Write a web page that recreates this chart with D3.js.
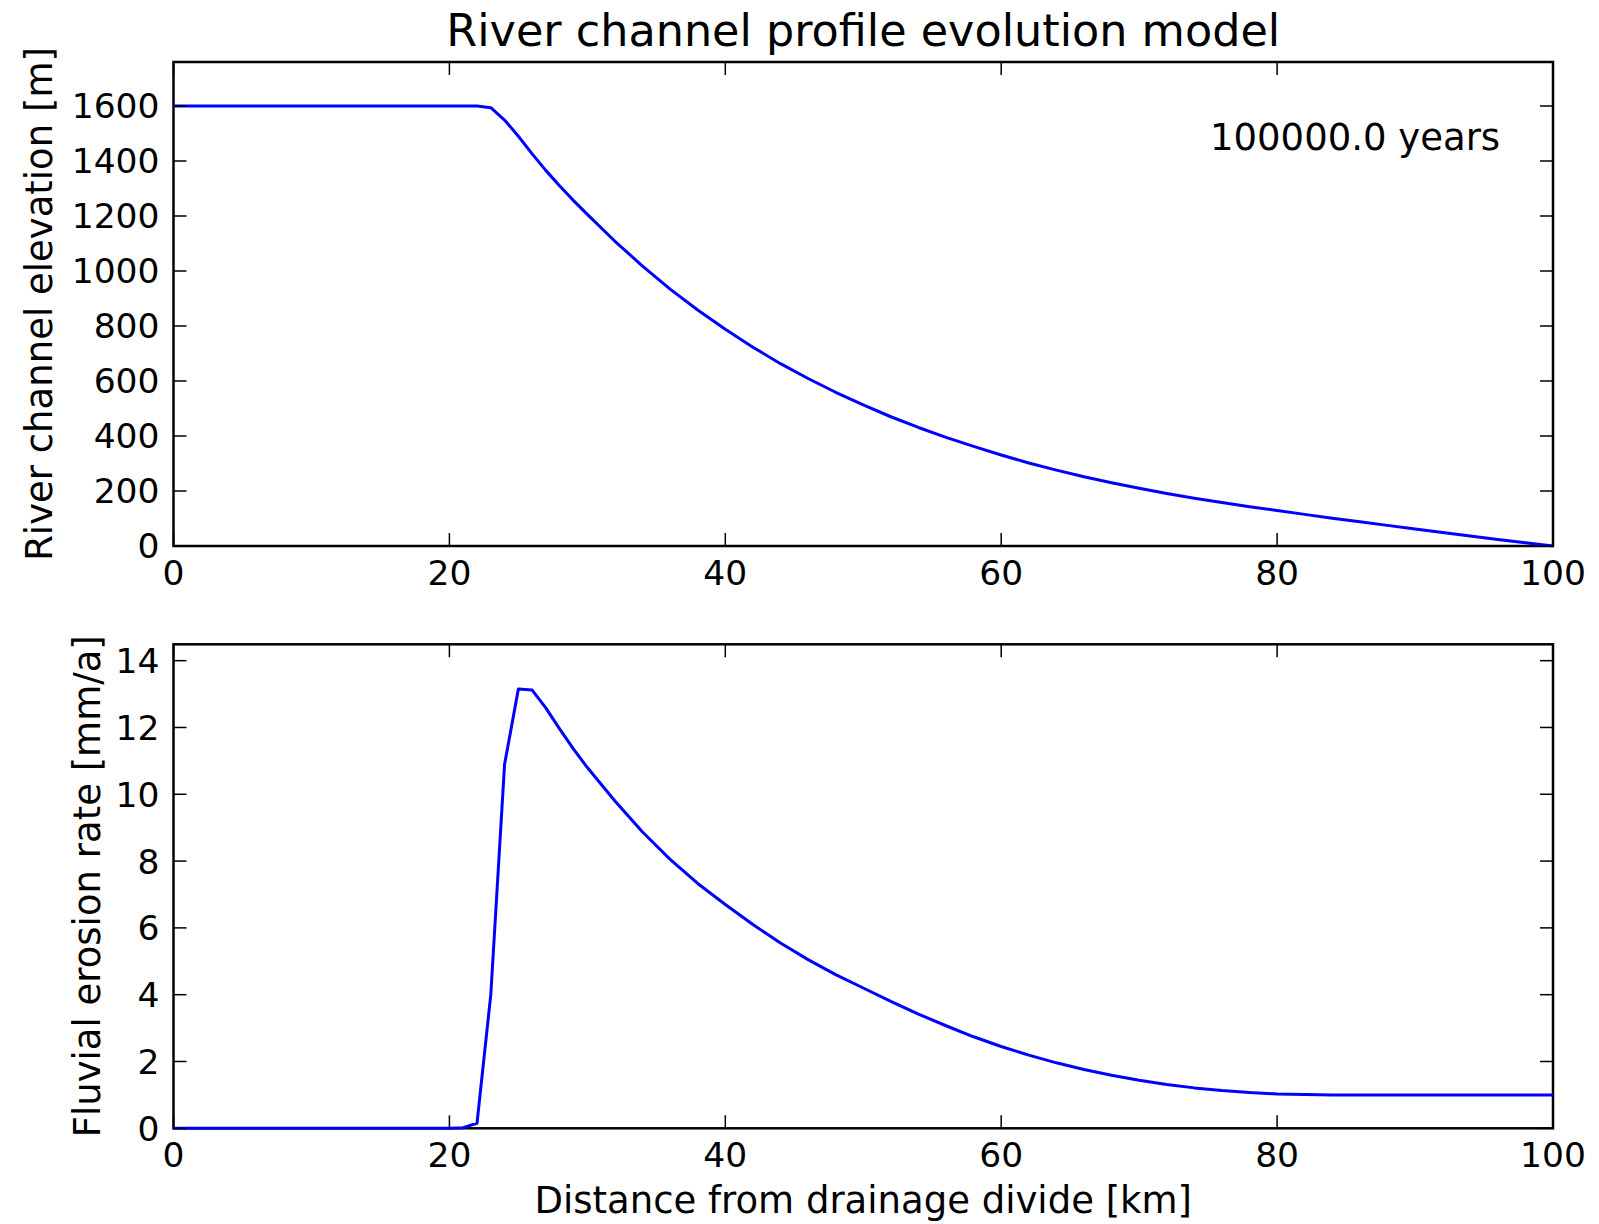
<!DOCTYPE html>
<html>
<head>
<meta charset="utf-8">
<script src="https://cdn.jsdelivr.net/npm/d3@7"></script>
<style>
  html, body { margin: 0; padding: 0; background: #fff; }
  svg { display: block; }
  text { font-family: "DejaVu Sans", sans-serif; fill: #000; }
</style>
</head>
<body>
<svg id="chart" width="1599" height="1224"></svg>
<script>
// ---- data ----
const distanceKm = [0,2,4,6,8,10,12,14,16,18,20,21,22,23,24,25,26,27,28,29,30,32,34,36,38,40,42,44,46,48,50,52,54,56,58,60,62,64,66,68,70,72,74,76,78,80,82,84,86,88,90,92,94,96,98,100];
const elevationM = [1600,1600,1600,1600,1600,1600,1600,1600,1600,1600,1600,1600,1600,1594,1549,1490,1426,1365,1309,1256,1206,1108,1018,934,858,788,723,663,609,559,513,470,431,395,362,331,302,276,252,230,210,191,174,158,143,129,115,101,88,75,62,49,36,24,12,0];
const erosionMmA = [0,0,0,0,0,0,0,0,0,0,0,0.02,0.15,4.0,10.9,13.15,13.12,12.58,11.95,11.35,10.8,9.8,8.87,8.05,7.33,6.7,6.1,5.55,5.05,4.6,4.2,3.8,3.42,3.07,2.74,2.45,2.19,1.96,1.76,1.59,1.44,1.31,1.21,1.13,1.07,1.03,1.01,1.0,1.0,1.0,1.0,1.0,1.0,1.0,1.0,1.0];
const xTicks = [0,20,40,60,80,100];
const elevTicks = [0,200,400,600,800,1000,1200,1400,1600];
const erosionTicks = [0,2,4,6,8,10,12,14];
const titleText = "River channel profile evolution model";
const timeLabel = "100000.0 years";

// ---- layout ----
const svg = d3.select("#chart");
const L = 173.5, R = 1553;
const top1 = 62, bot1 = 546;
const top2 = 644.3, bot2 = 1128.3;
const tickLen = 13;
const fs = 34.5;
const labelFs = 37;

const x = d3.scaleLinear().domain([0,100]).range([L,R]);
const yElev = d3.scaleLinear().domain([0,1760]).range([bot1, top1]);
const yEro = d3.scaleLinear().domain([0,14.49]).range([bot2, top2]);

function panel(yScale, yTicks, yData, top, bot, ylabel, ylabelX) {
  const g = svg.append("g");
  // frame
  g.append("rect").attr("x",L).attr("y",top).attr("width",R-L).attr("height",bot-top)
    .attr("fill","none").attr("stroke","#000").attr("stroke-width",2.5);
  // line
  const line = d3.line().x((d,i)=>x(distanceKm[i])).y(d=>yScale(d));
  g.append("path").datum(yData)
    .attr("d", line).attr("fill","none").attr("stroke","#0000ff")
    .attr("stroke-width",3).attr("stroke-linejoin","round");
  // ticks inward, all four sides
  const tg = g.append("g").attr("stroke","#000").attr("stroke-width",1.5);
  xTicks.forEach(t => {
    tg.append("line").attr("x1",x(t)).attr("x2",x(t)).attr("y1",bot).attr("y2",bot-tickLen);
    tg.append("line").attr("x1",x(t)).attr("x2",x(t)).attr("y1",top).attr("y2",top+tickLen);
  });
  yTicks.forEach(t => {
    tg.append("line").attr("x1",L).attr("x2",L+tickLen).attr("y1",yScale(t)).attr("y2",yScale(t));
    tg.append("line").attr("x1",R).attr("x2",R-tickLen).attr("y1",yScale(t)).attr("y2",yScale(t));
  });
  // tick labels
  xTicks.forEach(t => {
    g.append("text").attr("x",x(t)).attr("y",bot+14+25).attr("text-anchor","middle")
      .attr("font-size",fs).text(t);
  });
  yTicks.forEach(t => {
    g.append("text").attr("x",L-14).attr("y",yScale(t)).attr("dy","0.36em")
      .attr("text-anchor","end").attr("font-size",fs).text(t);
  });
  // y label
  g.append("text").attr("transform",`translate(${ylabelX},${(top+bot)/2}) rotate(-90)`)
    .attr("text-anchor","middle").attr("dy","0.36em").attr("font-size",labelFs).text(ylabel);
}

panel(yElev, elevTicks, elevationM, top1, bot1, "River channel elevation [m]", 39);
panel(yEro, erosionTicks, erosionMmA, top2, bot2, "Fluvial erosion rate [mm/a]", 87);

svg.append("text").attr("x",(L+R)/2).attr("y",46).attr("text-anchor","middle")
  .attr("font-size",44.5).text(titleText);
svg.append("text").attr("x",1210).attr("y",150).attr("font-size",37).text(timeLabel);
svg.append("text").attr("x",(L+R)/2).attr("y",1213).attr("text-anchor","middle")
  .attr("font-size",labelFs).text("Distance from drainage divide [km]");
</script>
</body>
</html>
